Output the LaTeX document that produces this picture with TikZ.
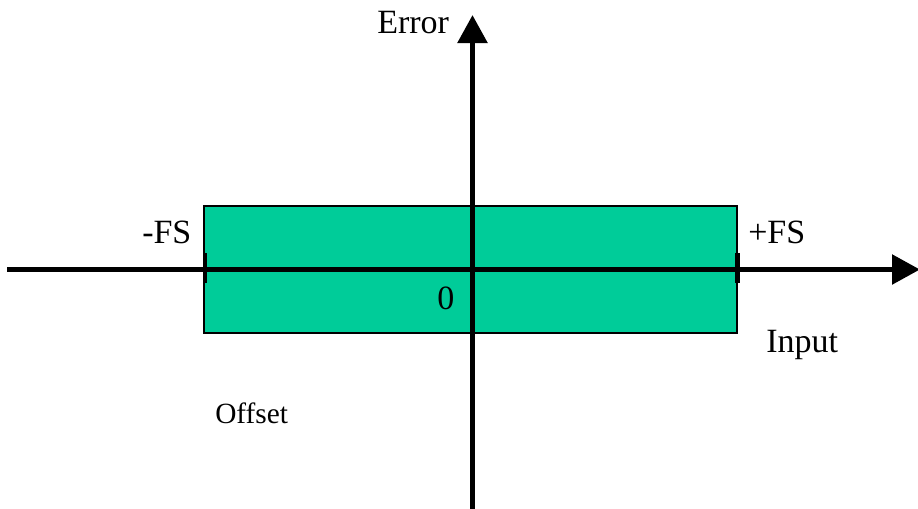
\documentclass[tikz,border=0pt]{standalone}
\usepackage{fontspec}
\setmainfont{Liberation Serif}
\usetikzlibrary{arrows.meta}
\definecolor{boxgreen}{RGB}{0,204,153}
\begin{document}
\begin{tikzpicture}[x=0.75pt,y=-0.75pt,
  axis/.style={line width=4.1pt, -{Triangle[length=21pt,width=21.75pt]}},
  tickmark/.style={line width=3.6pt},
  rangebox/.style={draw=black, line width=0.9pt, fill=boxgreen, inner sep=0pt,
    minimum width=399.75pt, minimum height=95.25pt},
  lbl/.style={inner sep=0pt, anchor=base west, font=\fontsize{25.5}{30}\selectfont},
  smalllbl/.style={inner sep=0pt, anchor=base west, font=\fontsize{22}{26}\selectfont}]
\useasboundingbox (0,0) rectangle (918,508);
% range box
\node[rangebox] (box) at (470.5,269.5) {};
% axes
\coordinate (xl) at (7,269.5);
\coordinate (xr) at (920,269.5);
\coordinate (yb) at (472.5,510);
\coordinate (yt) at (472.5,15);
\draw[axis] (xl) -- (xr);
\draw[axis] (yb) -- (yt);
% tick marks at -FS and +FS
\coordinate (tl1) at (205,253);
\coordinate (tl2) at (205,283);
\coordinate (tr1) at (737.5,253);
\coordinate (tr2) at (737.5,283);
\draw[tickmark] (tl1) -- (tl2);
\draw[tickmark] (tr1) -- (tr2);
% labels
\node[lbl] (err) at (377,33) {Error};
\node[lbl] (mfs) at (142,243) {-FS};
\node[lbl] (pfs) at (748,243) {+FS};
\node[lbl] (zero) at (437,309) {0};
\node[lbl] (inp) at (766,352) {Input};
\node[smalllbl] (off) at (215,423) {Offset};
\end{tikzpicture}
\end{document}
